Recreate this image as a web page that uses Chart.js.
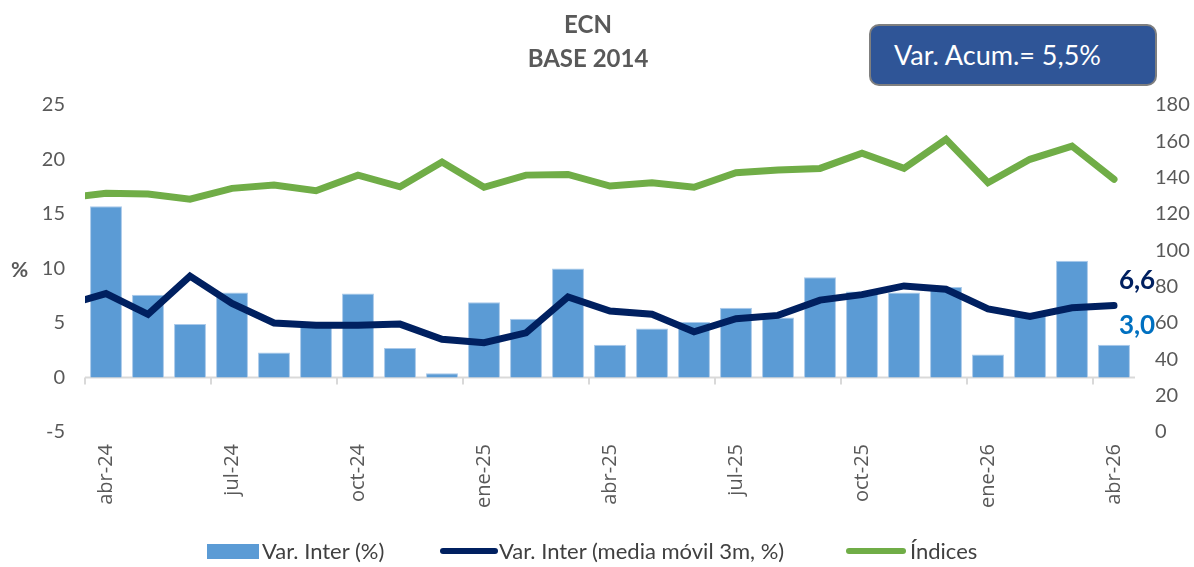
<!DOCTYPE html>
<html>
<head>
<meta charset="utf-8">
<script src="https://cdn.jsdelivr.net/npm/chart.js@4.4.1/dist/chart.umd.min.js"></script>
<style>
body{margin:0;background:#fff;}
#wrap{position:relative;width:1194px;height:567px;font-family:Lato, sans-serif;overflow:hidden;}
#titulo{position:absolute;left:0;top:7px;width:1176px;text-align:center;color:#595959;font-size:24px;line-height:34px;font-weight:bold;}
#caja{position:absolute;left:869px;top:24px;width:288px;height:62px;box-sizing:border-box;background:#2F5597;border:2px solid #7F7F7F;border-radius:10px;color:#fff;font-size:27px;line-height:58px;padding-left:23px;}
#pct{position:absolute;left:11px;top:256px;color:#595959;font-size:21px;font-weight:bold;}
.leg{position:absolute;top:536px;font-size:22px;color:#404040;line-height:30px;}
.sw{position:absolute;}
</style>
</head>
<body>
<div id="wrap">
  <canvas id="grafico" width="1194" height="567"></canvas>
  <div id="titulo">ECN<br>BASE 2014</div>
  <div id="caja">Var. Acum.= 5,5%</div>
  <div id="pct">%</div>
  <div class="sw" style="left:207px;top:544px;width:52px;height:15px;background:#5B9BD5;"></div>
  <div class="leg" style="left:262px;">Var. Inter (%)</div>
  <div class="sw" style="left:440px;top:548px;width:58px;height:6px;border-radius:3px;background:#002060;"></div>
  <div class="leg" style="left:499px;">Var. Inter (media móvil 3m, %)</div>
  <div class="sw" style="left:846px;top:548px;width:60px;height:6px;border-radius:3px;background:#70AD47;"></div>
  <div class="leg" style="left:910px;">Índices</div>
</div>
<script>
// meses (mar-24 solo para el tramo de linea que entra por la izquierda)
var meses = ['mar-24','abr-24','may-24','jun-24','jul-24','ago-24','sep-24','oct-24','nov-24','dic-24',
  'ene-25','feb-25','mar-25','abr-25','may-25','jun-25','jul-25','ago-25','sep-25','oct-25','nov-25','dic-25',
  'ene-26','feb-26','mar-26','abr-26'];
var etiquetasEje = ['abr-24','jul-24','oct-24','ene-25','abr-25','jul-25','oct-25','ene-26','abr-26'];

var varInter = [null, 15.7, 7.6, 4.9, 7.8, 2.3, 4.8, 7.7, 2.7, 0.4, 6.9, 5.4, 10.0, 3.0, 4.5, 5.1, 6.4, 5.5, 9.2,
  7.9, 7.8, 8.3, 2.1, 5.9, 10.7, 3.0];
var mediaMovil = [6.6, 7.7, 5.8, 9.3, 6.8, 5.0, 4.8, 4.8, 4.9, 3.5, 3.2, 4.1, 7.4, 6.1, 5.8, 4.2, 5.4, 5.7, 7.1,
  7.6, 8.4, 8.1, 6.3, 5.6, 6.4, 6.6];
var indices = [128.8, 131.4, 131.0, 128.2, 134.1, 135.9, 132.8, 141.4, 135.0, 148.6, 134.7, 141.4, 141.8, 135.4,
  137.2, 134.7, 142.7, 144.2, 145.1, 153.4, 145.1, 161.1, 137.2, 150.1, 157.4, 139.1];

var gris = "#595959";

// linea del eje en cero con sus marcas
var ejeCero = {
  id: 'ejeCero',
  beforeDatasetsDraw: function(chart){
    var ctx = chart.ctx, a = chart.chartArea;
    var x = chart.scales.x, y = chart.scales.y;
    var y0 = y.getPixelForValue(0);
    var w = x.getPixelForValue(2) - x.getPixelForValue(1);
    ctx.save();
    ctx.strokeStyle = "#D9D9D9";
    ctx.lineWidth = 2;
    ctx.beginPath();
    ctx.moveTo(a.left, y0);
    ctx.lineTo(a.right, y0);
    for(var i = 1; i < meses.length; i += 3){
      var px = x.getPixelForValue(i) - w/2;
      ctx.moveTo(px, y0);
      ctx.lineTo(px, y0 + 7);
    }
    ctx.stroke();
    ctx.restore();
  },
  afterDatasetsDraw: function(chart){
    var ctx = chart.ctx;
    var n = meses.length - 1;
    var pl = chart.getDatasetMeta(1).data[n];
    var pb = chart.getDatasetMeta(0).data[n];
    ctx.save();
    ctx.font = "bold 26px Lato";
    ctx.textAlign = "center";
    ctx.textBaseline = "middle";
    ctx.fillStyle = "#002060";
    ctx.fillText(mediaMovil[n].toFixed(1).replace('.', ','), pl.x + 23, pl.y - 25);
    ctx.fillStyle = "#0070C0";
    ctx.fillText(varInter[n].toFixed(1).replace('.', ','), pb.x + 23, pb.y - 19);
    ctx.restore();
  }
};

var ctx_chart = document.getElementById("grafico").getContext("2d");
var chart = new Chart(ctx_chart, {
  type: "bar",
  data: {
    labels: meses,
    datasets: [{
      label: "Var. Inter (%)",
      data: varInter,
      backgroundColor: "#5B9BD5",
      borderColor: "#A9C9EA",
      borderWidth: 1,
      barPercentage: 0.76,
      categoryPercentage: 1,
      yAxisID: "y",
      order: 2
    }, {
      type: "line",
      label: "Var. Inter (media móvil 3m, %)",
      data: mediaMovil,
      borderColor: "#002060",
      borderWidth: 7,
      pointRadius: 0,
      tension: 0,
      borderCapStyle: "round",
      yAxisID: "y",
      order: 1
    }, {
      type: "line",
      label: "Índices",
      data: indices,
      borderColor: "#70AD47",
      borderWidth: 7,
      pointRadius: 0,
      tension: 0,
      borderCapStyle: "round",
      yAxisID: "y1",
      order: 1
    }]
  },
  options: {
    responsive: false,
    animation: false,
    layout: { padding: { top: 105, left: 0, right: 0, bottom: 0 } },
    plugins: {
      legend: { display: false },
      tooltip: { enabled: false }
    },
    scales: {
      x: {
        min: 'abr-24',
        grid: { display: false, drawTicks: false },
        border: { display: false },
        ticks: {
          autoSkip: false,
          maxRotation: 90,
          minRotation: 90,
          padding: 12,
          color: gris,
          font: { family: "Open Sans", size: 20 },
          callback: function(val){
            var t = this.getLabelForValue(val);
            return etiquetasEje.indexOf(t) >= 0 ? t : '';
          }
        },
        afterFit: function(s){ s.height = 135; }
      },
      y: {
        position: "left",
        min: -5,
        max: 25,
        grid: { display: false, drawTicks: false },
        border: { display: false },
        ticks: { stepSize: 5, padding: 20, color: gris, font: { family: "Lato", size: 20 } },
        afterFit: function(s){ s.width = 85; }
      },
      y1: {
        position: "right",
        min: 0,
        max: 180,
        grid: { display: false, drawTicks: false },
        border: { display: false },
        ticks: { stepSize: 20, padding: 20, color: gris, font: { family: "Lato", size: 20 } },
        afterFit: function(s){ s.width = 59; }
      }
    }
  },
  plugins: [ejeCero]
});
</script>
</body>
</html>
